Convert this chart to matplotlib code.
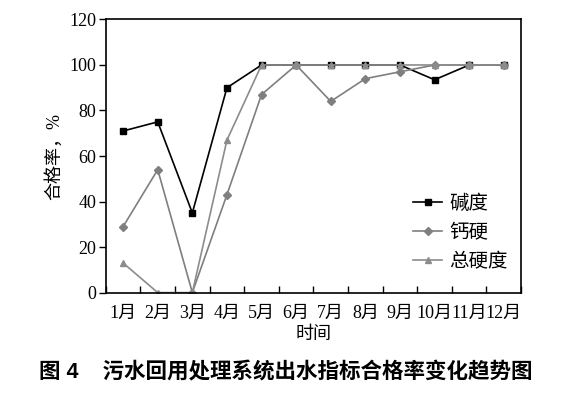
import matplotlib
matplotlib.use("Agg")
import matplotlib.pyplot as plt
import numpy as np

months = ["1月", "2月", "3月", "4月", "5月", "6月", "7月", "8月", "9月", "10月", "11月", "12月"]
alkalinity = [71, 75, 35, 90, 100, 100, 100, 100, 100, 93.5, 100, 100]
calcium_hardness = [29, 54, 0, 43, 87, 100, 84, 94, 97, 100, 100, 100]
total_hardness = [13, 0, 0, 67, 100, 100, 100, 100, 100, 100, 100, 100]
series_names = ["碱度", "钙硬", "总硬度"]
yticks = [0, 20, 40, 60, 80, 100, 120]

FAM = ["Liberation Serif", "Noto Sans CJK SC"]
plt.rcParams["font.family"] = FAM

fig = plt.figure(figsize=(5.72, 3.97), dpi=100)
ax = fig.add_axes([0.185, 0.263, 0.726, 0.688])

x = np.arange(len(months))
ax.plot(x, alkalinity, color="black", marker="s", markersize=5, linewidth=1.2, label=series_names[0])
ax.plot(x, calcium_hardness, color="#7f7f7f", marker="D", markersize=4, linewidth=1.2, label=series_names[1])
ax.plot(x, total_hardness, color="#8c8c8c", marker="^", markersize=5, linewidth=1.2, label=series_names[2])

ax.set_xlim(-0.5, len(months) - 0.5)
ax.set_ylim(0, 120)
ax.set_yticks(yticks)
ax.set_yticklabels([str(v) for v in yticks], fontsize=13)
ax.set_xticks(x)
ax.set_xticklabels(months, fontsize=13)
ax.tick_params(axis="x", which="major", length=0, pad=9)
ax.set_xticks(np.arange(-0.5, len(months) + 0.5, 1), minor=True)
ax.tick_params(axis="x", which="minor", direction="in", length=5, width=1)
ax.tick_params(axis="y", direction="out", length=5, width=1, pad=2)
for s in ax.spines.values():
    s.set_linewidth(1.2)

ax.set_xlabel("时间", fontsize=13, labelpad=3)
ax.set_ylabel("合格率，%", fontsize=13, labelpad=4)

leg = ax.legend(loc="lower right", bbox_to_anchor=(1.0, 0.03), frameon=False, fontsize=14,
                handlelength=1.5, handletextpad=0.35, labelspacing=0.55, borderaxespad=0.3)

fig.text(0.5, 0.06, "图 4    污水回用处理系统出水指标合格率变化趋势图", ha="center", va="center",
         fontsize=15.5, fontweight="bold", family=["Liberation Sans", "Noto Sans CJK SC"])

fig.savefig("out.png", dpi=100)
